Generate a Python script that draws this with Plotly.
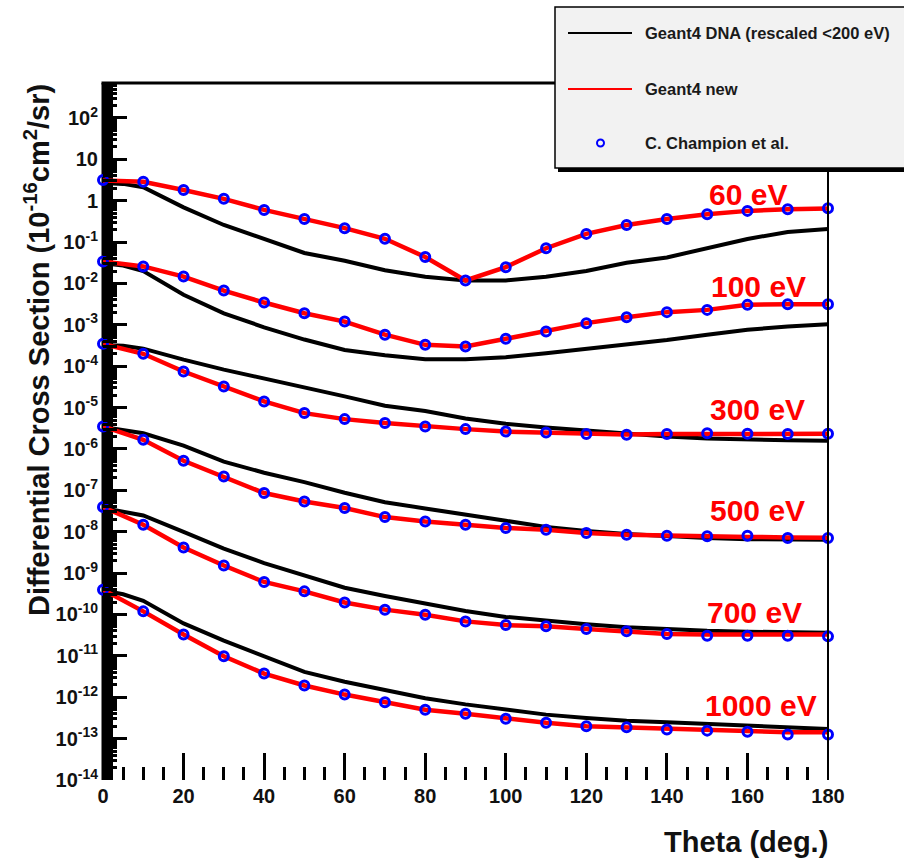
import plotly.graph_objects as go

# ---------------- data ----------------
theta_pts = [0, 10, 20, 30, 40, 50, 60, 70, 80, 90, 100, 110, 120, 130, 140, 150, 160, 170, 180]
theta_dna = [0, 5, 10, 20, 30, 40, 50, 60, 70, 80, 90, 100, 110, 120, 130, 140, 150, 160, 170, 180]

energy_labels = ["60 eV", "100 eV", "300 eV", "500 eV", "700 eV", "1000 eV"]

# C. Champion et al. (points)
champion_60 = [3.18, 2.86, 1.82, 1.11, 0.600, 0.363, 0.217, 0.120, 0.0436, 0.0118, 0.0248, 0.0711,
               0.158, 0.260, 0.363, 0.472, 0.568, 0.622, 0.661]
champion_100 = [3.39e-2, 2.58e-2, 1.47e-2, 6.75e-3, 3.46e-3, 1.91e-3, 1.20e-3, 5.78e-4, 3.29e-4, 2.99e-4,
                4.60e-4, 6.95e-4, 1.10e-3, 1.53e-3, 2.03e-3, 2.30e-3, 3.04e-3, 3.16e-3, 3.16e-3]
champion_300 = [3.48e-4, 2.00e-4, 7.45e-5, 3.24e-5, 1.41e-5, 7.36e-6, 5.27e-6, 4.22e-6, 3.50e-6, 3.02e-6,
                2.63e-6, 2.51e-6, 2.29e-6, 2.20e-6, 2.29e-6, 2.40e-6, 2.33e-6, 2.29e-6, 2.33e-6]
champion_500 = [3.50e-6, 1.67e-6, 5.19e-7, 2.17e-7, 8.61e-8, 5.40e-8, 3.74e-8, 2.26e-8, 1.77e-8, 1.48e-8,
                1.23e-8, 1.12e-8, 9.29e-9, 8.49e-9, 8.02e-9, 7.74e-9, 8.02e-9, 7.06e-9, 7.06e-9]
champion_700 = [3.94e-8, 1.48e-8, 4.17e-9, 1.53e-9, 6.11e-10, 3.62e-10, 1.95e-10, 1.31e-10, 9.89e-11, 6.81e-11,
                5.55e-11, 5.18e-11, 4.47e-11, 3.94e-11, 3.38e-11, 3.08e-11, 3.08e-11, 3.08e-11, 2.96e-11]
champion_1000 = [3.96e-10, 1.19e-10, 3.28e-11, 9.75e-12, 3.73e-12, 1.92e-12, 1.16e-12, 7.55e-13, 5.01e-13, 3.99e-13,
                 3.03e-13, 2.42e-13, 1.99e-13, 1.87e-13, 1.66e-13, 1.56e-13, 1.46e-13, 1.25e-13, 1.25e-13]

# Geant4 new (red lines)
new_60 = [3.10, 2.86, 1.82, 1.11, 0.600, 0.363, 0.217, 0.120, 0.0436, 0.0118, 0.0248, 0.0711,
          0.158, 0.260, 0.363, 0.472, 0.568, 0.622, 0.650]
new_100 = [3.39e-2, 2.58e-2, 1.47e-2, 6.75e-3, 3.46e-3, 1.91e-3, 1.20e-3, 5.78e-4, 3.29e-4, 2.99e-4,
           4.60e-4, 6.95e-4, 1.10e-3, 1.53e-3, 2.03e-3, 2.30e-3, 3.04e-3, 3.16e-3, 3.16e-3]
new_300 = [3.48e-4, 2.00e-4, 7.45e-5, 3.24e-5, 1.41e-5, 7.36e-6, 5.27e-6, 4.22e-6, 3.50e-6, 3.02e-6,
           2.63e-6, 2.51e-6, 2.29e-6, 2.25e-6, 2.29e-6, 2.33e-6, 2.33e-6, 2.31e-6, 2.33e-6]
new_500 = [3.50e-6, 1.67e-6, 5.19e-7, 2.17e-7, 8.61e-8, 5.40e-8, 3.74e-8, 2.26e-8, 1.77e-8, 1.48e-8,
           1.23e-8, 1.12e-8, 9.29e-9, 8.49e-9, 8.02e-9, 7.74e-9, 7.50e-9, 7.30e-9, 7.20e-9]
new_700 = [3.94e-8, 1.48e-8, 4.17e-9, 1.53e-9, 6.11e-10, 3.62e-10, 1.95e-10, 1.31e-10, 9.89e-11, 6.81e-11,
           5.55e-11, 5.18e-11, 4.47e-11, 3.94e-11, 3.38e-11, 3.30e-11, 3.30e-11, 3.30e-11, 3.30e-11]
new_1000 = [3.96e-10, 1.19e-10, 3.28e-11, 9.75e-12, 3.73e-12, 1.92e-12, 1.16e-12, 7.55e-13, 5.01e-13, 3.99e-13,
            3.03e-13, 2.42e-13, 1.99e-13, 1.87e-13, 1.66e-13, 1.56e-13, 1.46e-13, 1.42e-13, 1.42e-13]

# Geant4 DNA, rescaled <200 eV (black lines)
dna_60 = [2.67, 2.55, 2.12, 0.692, 0.259, 0.116, 0.0547, 0.0355, 0.0209, 0.0145, 0.0118, 0.0118,
          0.0145, 0.0200, 0.0316, 0.0426, 0.0705, 0.119, 0.176, 0.206]
dna_100 = [3.09e-2, 2.70e-2, 2.00e-2, 5.32e-3, 1.90e-3, 8.73e-4, 4.41e-4, 2.48e-4, 1.85e-4, 1.47e-4, 1.47e-4,
           1.65e-4, 2.07e-4, 2.60e-4, 3.43e-4, 4.31e-4, 5.79e-4, 7.62e-4, 9.14e-4, 1.03e-3]
dna_300 = [3.27e-4, 3.13e-4, 2.66e-4, 1.44e-4, 8.30e-5, 5.13e-5, 3.10e-5, 1.87e-5, 1.11e-5, 8.24e-6, 5.47e-6,
           4.06e-6, 3.30e-6, 2.75e-6, 2.29e-6, 2.00e-6, 1.78e-6, 1.66e-6, 1.63e-6, 1.59e-6]
dna_500 = [3.38e-6, 2.88e-6, 2.40e-6, 1.21e-6, 4.95e-7, 2.67e-7, 1.58e-7, 8.73e-8, 5.15e-8, 3.66e-8, 2.54e-8,
           1.84e-8, 1.31e-8, 1.04e-8, 8.87e-9, 7.73e-9, 7.06e-9, 6.59e-9, 6.44e-9, 6.44e-9]
dna_700 = [3.74e-8, 3.12e-8, 2.48e-8, 9.95e-9, 3.89e-9, 1.75e-9, 8.81e-10, 4.44e-10, 2.81e-10, 1.86e-10, 1.21e-10,
           8.75e-11, 6.97e-11, 5.81e-11, 4.95e-11, 4.42e-11, 4.03e-11, 3.85e-11, 3.68e-11, 3.60e-11]
dna_1000 = [3.83e-10, 3.08e-10, 2.14e-10, 6.08e-11, 2.33e-11, 9.77e-12, 4.10e-12, 2.37e-12, 1.50e-12, 9.48e-13,
            6.73e-13, 5.00e-13, 3.80e-13, 3.17e-13, 2.70e-13, 2.47e-13, 2.25e-13, 2.00e-13, 1.83e-13, 1.71e-13]

y_tickvals = [1e2, 1e1, 1e0, 1e-1, 1e-2, 1e-3, 1e-4, 1e-5, 1e-6, 1e-7, 1e-8, 1e-9, 1e-10, 1e-11, 1e-12, 1e-13, 1e-14]
y_ticktext = ["10<sup>2</sup>", "10", "1", "10<sup>-1</sup>", "10<sup>-2</sup>", "10<sup>-3</sup>",
              "10<sup>-4</sup>", "10<sup>-5</sup>", "10<sup>-6</sup>", "10<sup>-7</sup>", "10<sup>-8</sup>",
              "10<sup>-9</sup>", "10<sup>-10</sup>", "10<sup>-11</sup>", "10<sup>-12</sup>", "10<sup>-13</sup>",
              "10<sup>-14</sup>"]
x_tickvals = [0, 20, 40, 60, 80, 100, 120, 140, 160, 180]

legend_labels = ["Geant4 DNA (rescaled <200 eV)", "Geant4 new", "C. Champion et al."]
x_title = "Theta (deg.)"
y_title = "Differential Cross Section (10<sup>-16</sup>cm<sup>2</sup>/sr)"

# ---------------- layout helpers ----------------
W, H = 904, 859
L, R, T, B = 103, 828, 83, 780


def px(x):
    return (x - L) / (R - L)


def py(y):
    return (B - y) / (B - T)


FONT = "Liberation Sans, Arial, sans-serif"
BLUE = "#0000ff"
RED = "#ff0000"

fig = go.Figure()

dna_series = [dna_60, dna_100, dna_300, dna_500, dna_700, dna_1000]
new_series = [new_60, new_100, new_300, new_500, new_700, new_1000]
champ_series = [champion_60, champion_100, champion_300, champion_500, champion_700, champion_1000]

for lab, d in zip(energy_labels, dna_series):
    fig.add_trace(go.Scatter(x=theta_dna, y=d, mode="lines", name=legend_labels[0] + " " + lab,
                             line=dict(color="black", width=4), showlegend=False))
for lab, d in zip(energy_labels, new_series):
    fig.add_trace(go.Scatter(x=theta_pts, y=d, mode="lines", name=legend_labels[1] + " " + lab,
                             line=dict(color=RED, width=4.5), showlegend=False))
for lab, d in zip(energy_labels, champ_series):
    fig.add_trace(go.Scatter(x=theta_pts, y=d, mode="markers", name=legend_labels[2] + " " + lab,
                             marker=dict(symbol="circle-open", size=9, color=BLUE, line=dict(width=3, color=BLUE)),
                             cliponaxis=False, showlegend=False))

# minor tick positions for the log axis
y_minor = [m * 10.0 ** e for e in range(-14, 3) for m in range(2, 10)]

fig.update_layout(
    width=W, height=H,
    margin=dict(l=L, r=W - R, t=T, b=H - B),
    paper_bgcolor="white", plot_bgcolor="white",
    showlegend=False,
    xaxis=dict(range=[0, 180], tickmode="array", tickvals=x_tickvals, ticks="inside", ticklen=27,
               tickwidth=3, tickcolor="black", showgrid=False, zeroline=False, showline=False,
               tickfont=dict(family=FONT, size=20, color="#111", weight="bold"), ticklabelstandoff=2,
               minor=dict(dtick=5, tick0=0, ticks="inside", ticklen=13, tickwidth=3, tickcolor="black",
                          showgrid=False)),
    yaxis=dict(type="log", range=[-14, 2.845], tickmode="array", tickvals=y_tickvals, ticktext=y_ticktext,
               ticks="inside", ticklen=24, tickwidth=3, tickcolor="black", showgrid=False, zeroline=False,
               showline=False, tickfont=dict(family=FONT, size=20, color="#111", weight="bold"),
               ticklabelstandoff=4,
               minor=dict(tickmode="array", tickvals=y_minor, ticks="inside", ticklen=14, tickwidth=2.5,
                          tickcolor="black", showgrid=False)),
)

shapes = [
    # thick left axis bar
    dict(type="rect", xref="paper", yref="paper", x0=px(101.5), x1=px(113), y0=py(B), y1=py(T),
         fillcolor="black", line=dict(width=0), layer="below"),
    # frame top and right
    dict(type="line", xref="paper", yref="paper", x0=px(101.5), x1=px(904), y0=py(T), y1=py(T),
         line=dict(color="black", width=3)),
    dict(type="line", xref="paper", yref="paper", x0=px(R), x1=px(R), y0=py(B), y1=py(T),
         line=dict(color="black", width=2)),
    # legend shadow and box
    dict(type="rect", xref="paper", yref="paper", x0=px(558), x1=px(912), y0=py(172), y1=py(10),
         fillcolor="black", line=dict(width=0)),
    dict(type="rect", xref="paper", yref="paper", x0=px(555), x1=px(910), y0=py(168), y1=py(7),
         fillcolor="#f2f2f2", line=dict(color="black", width=1.5)),
    # legend samples
    dict(type="line", xref="paper", yref="paper", x0=px(568), x1=px(632), y0=py(33), y1=py(33),
         line=dict(color="black", width=2)),
    dict(type="line", xref="paper", yref="paper", x0=px(568), x1=px(632), y0=py(89), y1=py(89),
         line=dict(color=RED, width=2)),
    dict(type="circle", xref="paper", yref="paper", x0=px(597), x1=px(604), y0=py(146.5), y1=py(139.5),
         line=dict(color=BLUE, width=2)),
]
fig.update_layout(shapes=shapes)

annotations = []
for txt, yy in zip(legend_labels, [33, 89, 143]):
    annotations.append(dict(text=txt, xref="paper", yref="paper", x=px(643), y=py(yy), xanchor="left",
                            yanchor="middle", showarrow=False,
                            font=dict(family=FONT, size=16.5, color="#1a1a1a", weight="bold")))

label_pos = [(789, 194), (808, 286), (807, 409), (807, 511), (804, 612), (819, 705)]
for txt, (xr, yc) in zip(energy_labels, label_pos):
    annotations.append(dict(text=txt, xref="paper", yref="paper", x=px(xr), y=py(yc), xanchor="right",
                            yanchor="middle", showarrow=False,
                            font=dict(family=FONT, size=30, color=RED, weight="bold")))

annotations.append(dict(text=x_title, xref="paper", yref="paper", x=px(830), y=py(842), xanchor="right",
                        yanchor="middle", showarrow=False,
                        font=dict(family=FONT, size=29, color="#111", weight="bold")))
annotations.append(dict(text=y_title, xref="paper", yref="paper", x=px(37), y=py(350), xanchor="center",
                        yanchor="middle", textangle=-90, showarrow=False,
                        font=dict(family=FONT, size=29, color="#111", weight="bold")))
fig.update_layout(annotations=annotations)

fig.write_html("out.html")
